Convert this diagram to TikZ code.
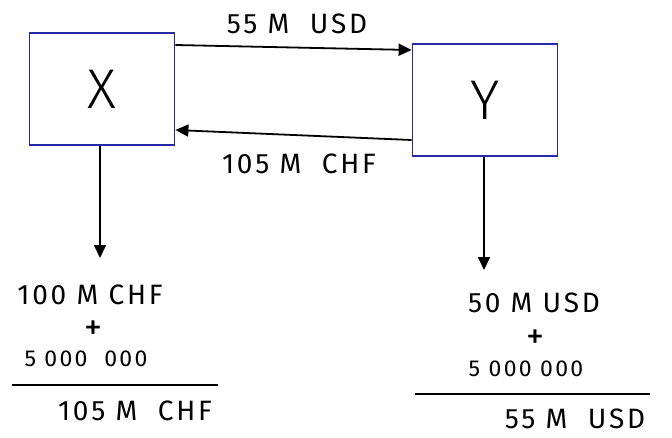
\documentclass[tikz,border=0pt]{standalone}
\usepackage{fontspec}
\setmainfont{Fira Sans}
\usetikzlibrary{arrows.meta}
\newfontface\light{Fira Sans Light}
\newfontfamily\handfont[LetterSpace=10]{Fira Sans}
\tikzset{
  party/.style={draw={rgb,255:red,40;green,40;blue,170}, line width=1.8pt, minimum width=145pt, minimum height=112pt, inner sep=0pt, font=\fontsize{56}{60}\selectfont\light},
  flow/.style={draw=black, line width=1.8pt, -{Triangle[length=13pt,width=12pt]}},
  hand/.style={inner sep=0pt, font=\fontsize{28}{32}\selectfont\handfont},
  small/.style={inner sep=0pt, font=\fontsize{23}{25}\selectfont\handfont},
  plus/.style={inner sep=0pt, font=\fontsize{36}{36}\selectfont},
  sumline/.style={draw=black, line width=1.8pt}
}
\begin{document}
\begin{tikzpicture}[x=1pt,y=-1pt]
\useasboundingbox (0,0) rectangle (672,437);
\fill[white] (0,0) rectangle (672,437);
\node[party] (X) at (102,89) {X};
\node[party] (Y) at (485,100) {Y};
\coordinate (xo) at ([yshift=44pt]X.east);
\coordinate (yi) at ([yshift=50pt]Y.west);
\draw[flow] (xo) -- (yi);
\coordinate (yo) at ([yshift=-40pt]Y.west);
\coordinate (xi) at ([yshift=-41pt]X.east);
\draw[flow] (yo) -- (xi);
\node[hand] (t1) at (297,24) {55 M\ \ USD};
\node[hand] (t2) at (299,164) {105 M\ \ CHF};
\coordinate (xd) at (100,258);
\coordinate (yd) at (484,270);
\draw[flow] (X.south -| xd) -- (xd);
\draw[flow] (Y.south -| yd) -- (yd);
\node[hand] (l1) at (90,295) {100 M CHF};
\node[plus] (l2) at (93,330) {+};
\node[small] (l3) at (86,359) {5 000\ \ 000};
\coordinate (la) at (12,385);
\coordinate (lb) at (218,385);
\draw[sumline] (la) -- (lb);
\node[hand] (l4) at (135,411) {105 M\ \ CHF};
\node[hand] (r1) at (534,303) {50 M USD};
\node[plus] (r2) at (535,339) {+};
\node[small] (r3) at (526,369) {5 000 000};
\coordinate (ra) at (415,394);
\coordinate (rb) at (650,394);
\draw[sumline] (ra) -- (rb);
\node[hand] (r4) at (575,419) {55 M\ \ USD};
\end{tikzpicture}
\end{document}
